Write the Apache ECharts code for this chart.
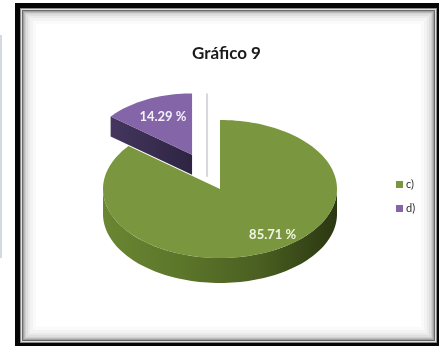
<!DOCTYPE html>
<html>
<head>
<meta charset="utf-8">
<script src="https://cdn.jsdelivr.net/npm/echarts@6/dist/echarts.min.js"></script>
<style>
  html, body { margin: 0; padding: 0; background: #ffffff; }
  #chart { width: 439px; height: 346px; }
</style>
</head>
<body>
<div id="chart"></div>
<script>
// Chart data
const categories = ['c)', 'd)'];
const values = [85.71, 14.29];
const valueLabels = ['85.71 %', '14.29 %'];

// Slice styling: top face, visible side wall, legend swatch, label colour
const sliceColors = [
  { top: '#7a963f', side: ['#6a8632', '#5c762a', '#4a5f21', '#2b3711'], legend: '#7a963f', label: '#f1f5e4' },
  { top: '#8466a8', side: ['#44365e', '#2e2442'], legend: '#8466a8', label: '#f5f1fb' }
];

// Tilted-pie geometry (pixels)
const geo = { cx: 220, cy: 189, rx: 117, ry: 69, depth: 25 };
const explodeBy = [0, 0.55];     // fraction of radius each slice is pulled out
const shrinkBy = [1, 0.89];      // exploded slice sits farther back, so it looks smaller
const labelAnchor = [[0.45, 0.67], [-0.28, -0.62]]; // label position relative to slice centre (rx, ry units)

const total = values.reduce((a, b) => a + b, 0);

function ellPt(cx, cy, rx, ry, deg, dy) {
  const r = deg * Math.PI / 180;
  return [cx + rx * Math.sin(r), cy - ry * Math.cos(r) + (dy || 0)];
}
function arcPts(cx, cy, rx, ry, a0, a1, dy) {
  const pts = [];
  const n = Math.max(2, Math.ceil(Math.abs(a1 - a0) / 2));
  for (let i = 0; i <= n; i++) {
    pts.push(ellPt(cx, cy, rx, ry, a0 + (a1 - a0) * i / n, dy));
  }
  return pts;
}

function makeRender(idx) {
  return function (params, api) {
    const v = api.value(0);
    let before = 0;
    for (let i = 0; i < idx; i++) before += values[i];
    const a0 = before / total * 360;
    const a1 = a0 + v / total * 360;
    const mid = (a0 + a1) / 2;
    const s = shrinkBy[idx];
    const rx = geo.rx * s, ry = geo.ry * s, depth = geo.depth * (s < 1 ? 0.8 : 1);
    const off = ellPt(0, 0, geo.rx * explodeBy[idx], geo.ry * explodeBy[idx], mid);
    const cx = geo.cx + off[0], cy = geo.cy + off[1];
    const col = sliceColors[idx];
    const children = [];

    // outer side wall (front half only: 90..270 deg)
    const s0 = Math.max(a0, 90), s1 = Math.min(a1, 270);
    if (s1 > s0) {
      const top = arcPts(cx, cy, rx, ry, s0, s1, 0);
      const bot = arcPts(cx, cy, rx, ry, s1, s0, depth);
      const stops = col.side.map((c, i) => ({ offset: i / (col.side.length - 1), color: c }));
      children.push({
        type: 'polygon',
        shape: { points: top.concat(bot) },
        style: { fill: new echarts.graphic.LinearGradient(cx - rx, 0, cx + rx, 0, stops, true) }
      });
    }
    // cut faces that turn toward the viewer
    const cutFace = (ang) => {
      const p = ellPt(cx, cy, rx, ry, ang, 0);
      return {
        type: 'polygon',
        shape: { points: [[cx, cy], p, [p[0], p[1] + depth], [cx, cy + depth]] },
        style: {
          fill: new echarts.graphic.LinearGradient(p[0], 0, cx, 0,
            [{ offset: 0, color: col.side[0] }, { offset: 1, color: col.side[col.side.length - 1] }], true)
        }
      };
    };
    if (Math.sin(a0 * Math.PI / 180) < -1e-6) children.push(cutFace(a0));
    if (Math.sin(a1 * Math.PI / 180) > 1e-6) children.push(cutFace(a1));

    // faint sheen on the edge-on cut face at 12 o'clock of the pulled-out slice
    if (explodeBy[idx] > 0 && Math.abs(a1 - 360) < 1e-6) {
      children.push({
        type: 'line',
        shape: { x1: cx + 15, y1: cy - ry, x2: cx + 15, y2: cy + depth + 2 },
        style: { stroke: '#d6d6de', lineWidth: 2 }
      });
    }

    // top face
    children.push({
      type: 'polygon',
      shape: { points: [[cx, cy]].concat(arcPts(cx, cy, rx, ry, a0, a1, 0)) },
      style: { fill: col.top }
    });

    // value label
    const la = labelAnchor[idx];
    children.push({
      type: 'text',
      style: {
        text: valueLabels[idx],
        x: cx + la[0] * rx, y: cy + la[1] * ry,
        fill: col.label,
        font: 'bold 13px Lato, "Open Sans", sans-serif',
        align: 'center', verticalAlign: 'middle'
      }
    });
    return { type: 'group', children: children };
  };
}

// Picture frame around the chart
const frameLayers = [
  [15, 3, '#050505'],
  [20, 8, '#8a8a8a'],
  [21, 9, '#e0e0e0'],
  [22, 10, '#6a6a6a'],
  [23, 11, '#a0a0a0'],
  [24, 12, '#bcbcbc'],
  [25, 13, '#d0d0d0'],
  [26, 14, '#dfdfdf'],
  [28, 16, '#eaeaea'],
  [30, 18, '#f3f3f3'],
  [33, 21, '#fafafa'],
  [36, 24, '#ffffff']
];
const frameRight = 437, frameBottom = 343;
const frameChildren = frameLayers.map(([x, y, c], i) => {
  const inset = i === 0 ? -10 : (x - 20);
  const insetB = i === 0 ? -10 : (y - 8);
  return {
    type: 'rect',
    shape: { x: x, y: y, width: (frameRight - inset) - x, height: (frameBottom - insetB) - y },
    style: { fill: c }
  };
});
frameChildren.unshift({ type: 'rect', shape: { x: 0, y: 35, width: 2, height: 223 }, style: { fill: '#d3d8e2' } });

const chart = echarts.init(document.getElementById('chart'), null, { renderer: 'canvas' });
chart.setOption({
  animation: false,
  backgroundColor: '#ffffff',
  graphic: [{ type: 'group', z: -10, children: frameChildren }],
  title: {
    text: 'Gráfico 9',
    left: 192, top: 45, padding: 0,
    textStyle: { fontSize: 17, fontWeight: 'bold', color: '#1b1b1b', fontFamily: 'Lato, "Open Sans", sans-serif' }
  },
  legend: {
    orient: 'vertical', left: 396, top: 179, padding: 0,
    itemWidth: 7, itemHeight: 7, itemGap: 13, icon: 'rect',
    textStyle: { fontSize: 11, color: '#2e2e2e', fontFamily: 'Lato, "Open Sans", sans-serif', padding: [0, 0, 0, -2] },
    data: categories
  },
  series: categories.map((name, i) => ({
    type: 'custom',
    name: name,
    coordinateSystem: 'none',
    z: i === 1 ? 3 : 2,
    itemStyle: { color: sliceColors[i].legend },
    renderItem: makeRender(i),
    data: [[values[i]]]
  }))
});
</script>
</body>
</html>
